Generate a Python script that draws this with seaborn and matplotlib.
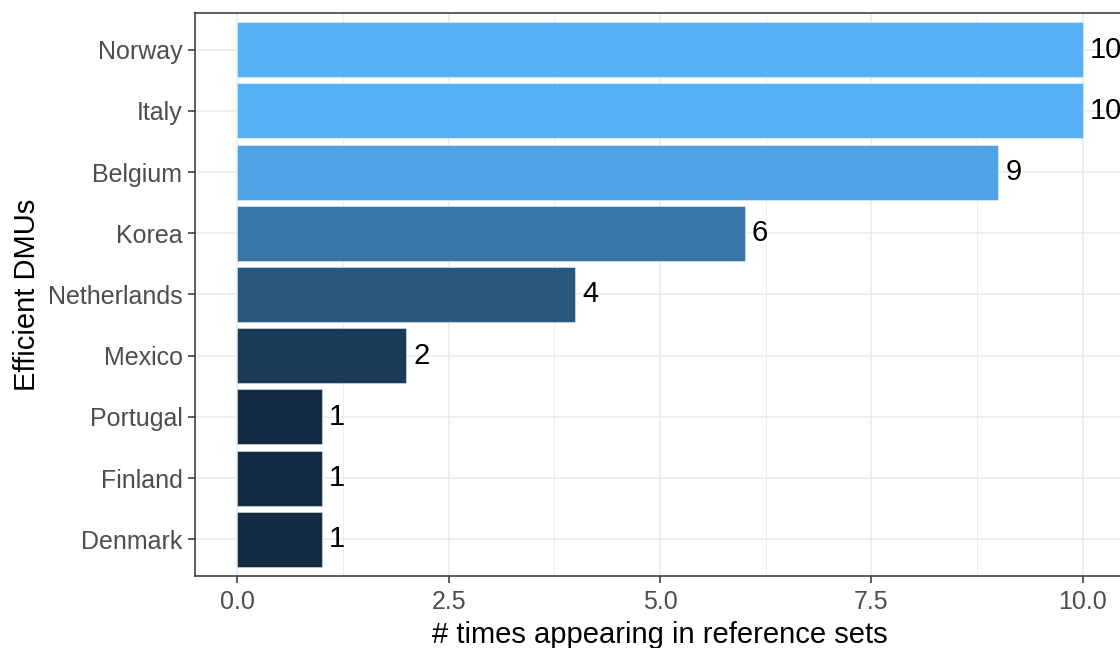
import numpy as np
import pandas as pd
import matplotlib
matplotlib.use("Agg")
import matplotlib.pyplot as plt
import matplotlib.colors as mcolors
from matplotlib.ticker import MultipleLocator, FormatStrFormatter
import seaborn as sns

# ── Data ───────────────────────────────────────────────────────────────────────
countries = ["Norway", "Italy", "Belgium", "Korea", "Netherlands",
             "Mexico", "Portugal", "Finland", "Denmark"]
counts    = [10, 10, 9, 6, 4, 2, 1, 1, 1]

# ── Style ──────────────────────────────────────────────────────────────────────
LOW, HIGH  = "#132B43", "#56B1F7"
GRID_COLOR = "#EBEBEB"
AXIS_COLOR = "#333333"
TICK_TEXT  = "#4D4D4D"

sns.set_style("white")
plt.rcParams["font.family"] = ["Liberation Sans", "DejaVu Sans"]

df = pd.DataFrame({"country": countries, "count": counts})
cmap = mcolors.LinearSegmentedColormap.from_list("gg", [LOW, HIGH])
norm = mcolors.Normalize(vmin=min(counts), vmax=max(counts))
palette = {c: cmap(norm(v)) for c, v in zip(countries, counts)}

fig = plt.figure(figsize=(11.2, 6.48), dpi=100)
fig.patch.set_facecolor("white")
ax = fig.add_axes([195 / 1120, 72 / 648, 930 / 1120, 563 / 648])

sns.barplot(data=df, x="count", y="country", hue="country", palette=palette,
            order=countries, legend=False, width=0.9, orient="h",
            saturation=1, edgecolor=(1, 1, 1, 0.5), linewidth=0.6,
            ax=ax, zorder=2)

# value labels
for i, v in enumerate(counts):
    ax.annotate(str(v), xy=(v, i), xytext=(5, 0), textcoords="offset points",
                ha="left", va="center", fontsize=21, color="black",
                annotation_clip=False)

ax.set_xlim(-0.5, 10.5)
ax.set_ylim(len(countries) - 1 + 0.6, -0.6)

ax.xaxis.set_major_locator(MultipleLocator(2.5))
ax.xaxis.set_minor_locator(MultipleLocator(1.25))
ax.xaxis.set_major_formatter(FormatStrFormatter("%.1f"))
ax.set_axisbelow(True)
ax.grid(which="major", color=GRID_COLOR, linewidth=1.1, zorder=0)
ax.grid(which="minor", axis="x", color=GRID_COLOR, linewidth=0.6, zorder=0)

ax.tick_params(axis="both", which="major", length=5, width=1.1,
               color=AXIS_COLOR, labelcolor=TICK_TEXT, labelsize=18)
ax.tick_params(axis="x", which="major", pad=5, bottom=True)
ax.tick_params(axis="y", which="major", pad=4, left=True)
ax.tick_params(which="minor", length=0)

for spine in ax.spines.values():
    spine.set_visible(True)
    spine.set_edgecolor(AXIS_COLOR)
    spine.set_linewidth(1.1)

ax.set_xlabel("# times appearing in reference sets", fontsize=21, color="black")
ax.set_ylabel("Efficient DMUs", fontsize=21, color="black", va="center")
ax.xaxis.set_label_coords(0.5, -0.08)
ax.yaxis.set_label_coords((27 - 195) / 930, 0.5)

fig.savefig("out.png", dpi=100, facecolor="white")
